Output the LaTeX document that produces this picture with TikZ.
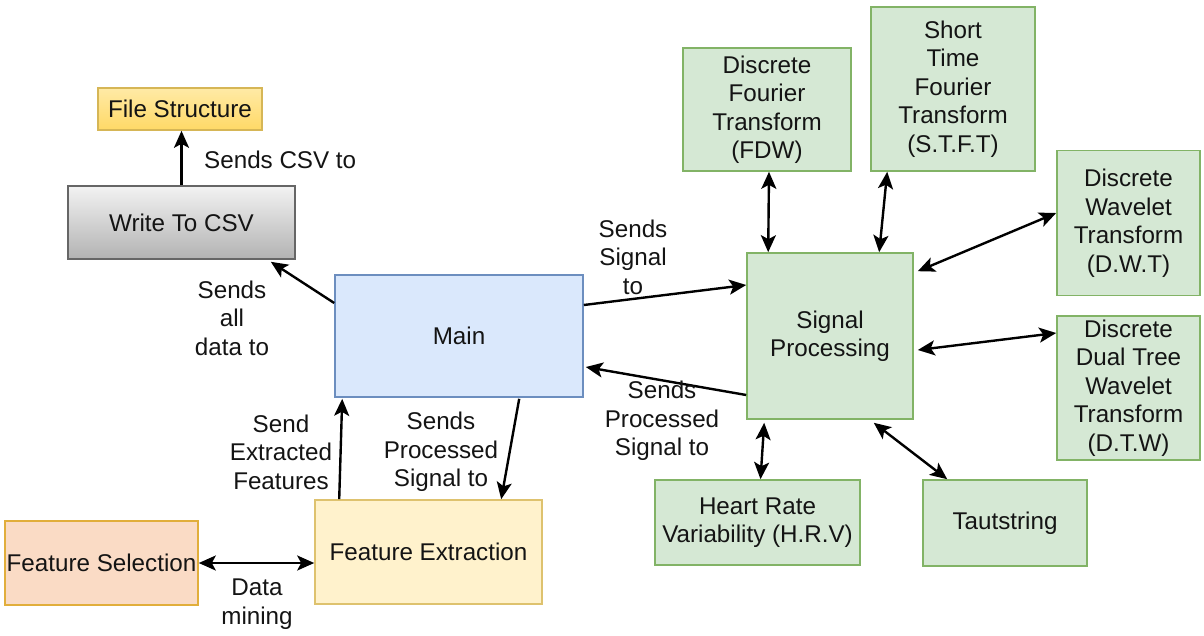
\documentclass[tikz,border=0pt]{standalone}
\usepackage{fontspec}
\setmainfont{Liberation Sans}
\usetikzlibrary{arrows.meta,calc}

\definecolor{txt}{HTML}{141414}
\definecolor{greenfill}{HTML}{D5E8D4}
\definecolor{greenline}{HTML}{82B366}
\definecolor{bluefill}{HTML}{DAE8FC}
\definecolor{blueline}{HTML}{6C8EBF}
\definecolor{yelfill}{HTML}{FFF2CC}
\definecolor{yelline}{HTML}{D6B656}
\definecolor{goldtop}{HTML}{FFEAA6}
\definecolor{goldbot}{HTML}{FFD966}
\definecolor{salfill}{HTML}{FADBC5}
\definecolor{salline}{HTML}{D79B00}
\definecolor{greyline}{HTML}{666666}

\tikzset{
  box/.style={draw, line width=1.6pt, inner sep=0pt, align=center, text=txt,
    font=\fontsize{24.2}{28.5}\selectfont},
  green box/.style={box, fill=greenfill, draw=greenline},
  lbl/.style={align=center, text=txt, inner sep=0pt,
    font=\fontsize{24.2}{28.5}\selectfont},
  tip/.tip={Stealth[length=17pt,width=15pt,inset=4pt]},
  flow/.style={line width=2.4pt, -tip},
  both/.style={line width=2.4pt, tip-tip},
}

\begin{document}
\begin{tikzpicture}[x=1pt,y=-1pt]
\useasboundingbox[fill=white] (0,0) rectangle (1204,635);

% left-hand chain
\node[box, draw=yelline, top color=goldtop, bottom color=goldbot,
      minimum width=164pt, minimum height=42pt] (fs) at (180,109) {File Structure};
\node[box, draw=greyline, top color=white!95!black, bottom color=black!30,
      minimum width=227pt, minimum height=73pt] (csv) at (181.5,222.5) {Write To CSV};
\node[box, fill=bluefill, draw=blueline,
      minimum width=248pt, minimum height=122pt] (main) at (459,336) {Main};
\node[box, fill=salfill, draw=salline!70!salfill,
      minimum width=193pt, minimum height=84pt] (fsel) at (101.5,563) {Feature Selection};
\node[box, fill=yelfill, draw=yelline!80!yelfill,
      minimum width=227pt, minimum height=104pt] (fext) at (428.5,552) {Feature Extraction};

% signal processing and its transforms
\node[green box, minimum width=166pt, minimum height=166pt] (sp) at (830,336) {Signal\\Processing};
\node[green box, minimum width=168pt, minimum height=123pt] (dft) at (767,109.5)
  {Discrete\\Fourier\\Transform\\(FDW)};
\node[green box, minimum width=164pt, minimum height=164pt] (stft) at (953,89)
  {Short\\Time\\Fourier\\Transform\\(S.T.F.T)};
\node[green box, minimum width=143pt, minimum height=145pt] (dwt) at (1128.5,223)
  {Discrete\\Wavelet\\Transform\\(D.W.T)};
\node[green box, minimum width=143pt, minimum height=144pt] (dtw) at (1128.5,388)
  {Discrete\\Dual Tree\\Wavelet\\Transform\\(D.T.W)};
\node[green box, minimum width=205pt, minimum height=85pt] (hrv) at (757.5,522.5)
  {Heart Rate\\Variability (H.R.V)};
\node[green box, minimum width=164pt, minimum height=86pt] (taut) at (1005,523) {Tautstring};

% connectors
\draw[flow] (csv.north) -- (csv.north |- fs.south);
\draw[flow] ($(main.west)+(0,-33)$) -- ($(csv.south east)+(-25,2)$);
\draw[flow] ($(main.east)+(0,-31)$) -- ($(sp.west)+(0,-51)$);
\draw[flow] ($(sp.west)+(0,59)$) -- ($(main.east)+(2,31)$);
\draw[flow] ($(fext.north west)+(25,0)$) -- ($(main.south west)+(8,1)$);
\draw[flow] ($(main.south west)+(185,1)$) -- ($(fext.north west)+(187,0)$);
\draw[both] (fsel.east) -- (fext.west |- fsel.east);
\draw[both] ($(dft.south)+(2,0)$) -- ($(sp.north west)+(22,0)$);
\draw[both] ($(stft.south west)+(17,0)$) -- ($(sp.north west)+(133,0)$);
\draw[both] ($(dwt.west)+(0,-10)$) -- ($(sp.north east)+(4,19)$);
\draw[both] ($(dtw.west)+(0,-55)$) -- ($(sp.east)+(4,14)$);
\draw[both] ($(sp.south west)+(18,3)$) -- ($(hrv.north)+(3,0)$);
\draw[both] ($(sp.south east)+(-40,3)$) -- ($(taut.north west)+(25,0)$);

% connector labels
\node[lbl, anchor=west] (l1) at (204,160) {Sends CSV to};
\node[lbl] (l2) at (232,318) {Sends\\all\\data to};
\node[lbl] (l3) at (633,257) {Sends\\Signal\\to};
\node[lbl] (l4) at (662,421) {Sends\\Processed\\Signal to};
\node[lbl] (l5) at (281,452) {Send\\Extracted\\Features};
\node[lbl] (l6) at (441,452) {Sends\\Processed\\Signal to};
\node[lbl] (l7) at (257,604) {Data\\mining};
\end{tikzpicture}
\end{document}
